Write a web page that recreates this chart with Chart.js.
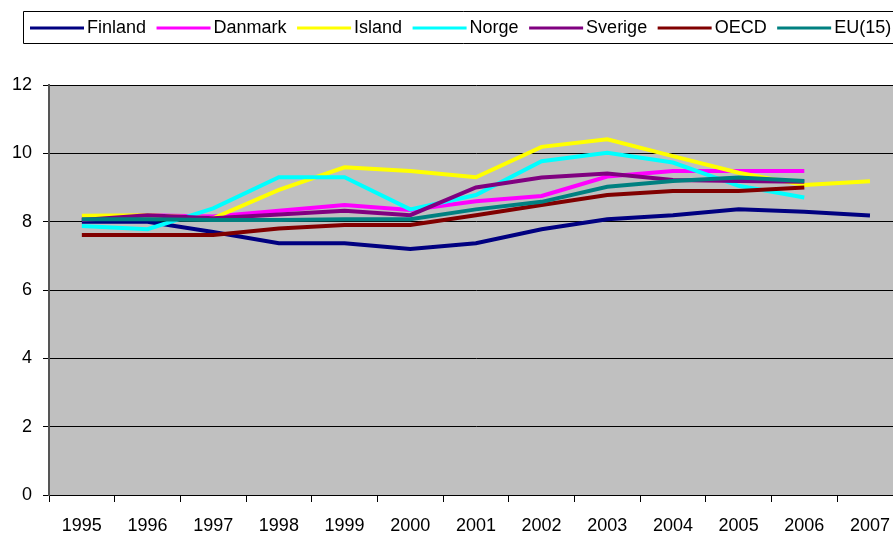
<!DOCTYPE html>
<html>
<head>
<meta charset="utf-8">
<script src="https://cdn.jsdelivr.net/npm/chart.js@4.4.1/dist/chart.umd.min.js"></script>
<style>
  html, body { margin: 0; padding: 0; background: #fff; overflow: hidden; }
  #wrap { width: 903px; height: 534px; }
</style>
</head>
<body>
<div id="wrap"><canvas id="chart" width="903" height="534"></canvas></div>
<script>
// Data
const years = ['1995', '1996', '1997', '1998', '1999', '2000', '2001', '2002', '2003', '2004', '2005', '2006', '2007'];
const yTicks = [0, 2, 4, 6, 8, 10, 12];

const finland = [8.0, 8.0, 7.7, 7.37, 7.37, 7.2, 7.37, 7.78, 8.07, 8.19, 8.36, 8.29, 8.18];
const danmark = [8.1, 8.19, 8.15, 8.32, 8.49, 8.34, 8.6, 8.75, 9.32, 9.48, 9.48, 9.48, null];
const island  = [8.17, 8.19, 8.1, 8.93, 9.59, 9.48, 9.3, 10.19, 10.41, 9.92, 9.43, 9.07, 9.18];
const norge   = [7.87, 7.78, 8.39, 9.3, 9.3, 8.36, 8.78, 9.77, 10.02, 9.73, 9.05, 8.71, null];
const sverige = [8.05, 8.19, 8.1, 8.21, 8.32, 8.19, 9.0, 9.29, 9.41, 9.22, 9.19, 9.17, null];
const oecd    = [7.61, 7.61, 7.61, 7.8, 7.9, 7.9, 8.19, 8.49, 8.78, 8.9, 8.9, 9.0, null];
const eu15    = [8.07, 8.07, 8.05, 8.05, 8.07, 8.07, 8.36, 8.58, 9.02, 9.19, 9.29, 9.19, null];

const seriesNames = ['Finland', 'Danmark', 'Island', 'Norge', 'Sverige', 'OECD', 'EU(15)'];
const seriesData = [finland, danmark, island, norge, sverige, oecd, eu15];
const seriesColors = ['#000080', '#FF00FF', '#FFFF00', '#00FFFF', '#800080', '#800000', '#008080'];

Chart.defaults.font.family = '"Liberation Sans", Arial, sans-serif';
Chart.defaults.font.size = 18;
Chart.defaults.color = '#000';

// grey plot area like the original
const plotBackground = {
    id: 'plotBackground',
    beforeDraw(chart) {
        const a = chart.chartArea;
        const ctx = chart.ctx;
        ctx.save();
        ctx.fillStyle = '#C0C0C0';
        ctx.fillRect(a.left, a.top, a.right - a.left, a.bottom - a.top);
        ctx.restore();
    }
};

// boxed legend row across the top
const boxLegend = {
    id: 'boxLegend',
    afterDraw(chart) {
        const ctx = chart.ctx;
        ctx.save();
        ctx.strokeStyle = '#000';
        ctx.lineWidth = 1;
        ctx.beginPath();
        ctx.moveTo(chart.width + 5, 11.5);
        ctx.lineTo(23.5, 11.5);
        ctx.lineTo(23.5, 43.5);
        ctx.lineTo(chart.width + 5, 43.5);
        ctx.stroke();

        ctx.font = '18px "Liberation Sans", Arial, sans-serif';
        ctx.textBaseline = 'middle';
        let x = 30;
        const y = 28;
        chart.data.datasets.forEach(ds => {
            ctx.strokeStyle = ds.borderColor;
            ctx.lineWidth = 3;
            ctx.beginPath();
            ctx.moveTo(x, y);
            ctx.lineTo(x + 54, y);
            ctx.stroke();
            ctx.fillStyle = '#000';
            ctx.fillText(ds.label, x + 57, y);
            x += 57 + ctx.measureText(ds.label).width + 10.5;
        });
        ctx.restore();
    }
};

const ctx = document.getElementById('chart').getContext('2d');
const chart = new Chart(ctx, {
    type: 'line',
    data: {
        labels: years,
        datasets: seriesNames.map((name, i) => ({
            label: name,
            data: seriesData[i],
            borderColor: seriesColors[i],
            backgroundColor: seriesColors[i],
            borderWidth: 4,
            pointRadius: 0,
            tension: 0,
            fill: false,
            order: seriesNames.length - i
        }))
    },
    options: {
        responsive: false,
        animation: false,
        layout: { padding: { top: 85, left: 0, right: 0, bottom: 0 } },
        plugins: {
            legend: { display: false },
            tooltip: { enabled: false }
        },
        scales: {
            x: {
                offset: true,
                grid: { offset: true, drawOnChartArea: false, tickLength: 7, color: '#000' },
                border: { color: '#000', width: 1 },
                ticks: { padding: 13, maxRotation: 0, autoSkip: false },
                afterFit(scale) { scale.height = 39; }
            },
            y: {
                min: 0,
                max: 12,
                afterBuildTicks(scale) { scale.ticks = yTicks.map(v => ({ value: v })); },
                grid: { color: '#000', lineWidth: 1, tickLength: 6 },
                border: { color: '#555', width: 2 },
                ticks: { padding: 11 },
                afterFit(scale) { scale.width = 49; }
            }
        }
    },
    plugins: [plotBackground, boxLegend]
});
</script>
</body>
</html>
